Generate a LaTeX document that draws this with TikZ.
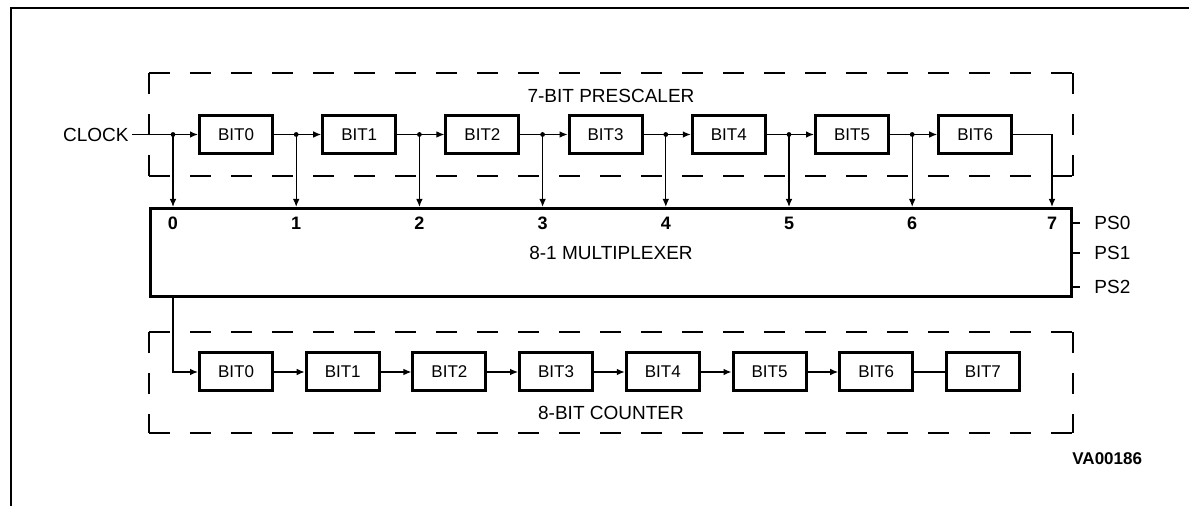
\documentclass[tikz,border=0pt]{standalone}
\usepackage{fontspec}
\setmainfont{Liberation Sans}
\usetikzlibrary{arrows.meta}
\begin{document}
\begin{tikzpicture}[x=0.5pt,y=-0.5pt,
  bitbox/.style={draw,line width=1.5pt,minimum width=36.5pt,minimum height=19pt,inner sep=0pt,font=\fontsize{8.5}{10}\selectfont},
  wire/.style={line width=0.65pt},
  arr/.style={wire,-{Latex[length=4pt,width=3.3pt]}},
  dashside/.style={line width=0.65pt,dash pattern=on 10.5pt off 10pt},
  dot/.style={circle,fill,inner sep=0pt,minimum size=2.4pt},
  lbl/.style={font=\fontsize{9.5}{11}\selectfont},
  num/.style={font=\bfseries\fontsize{9}{11}\selectfont,inner sep=0pt}]
\useasboundingbox (0,0) rectangle (1189,506);
% frame
\draw[line width=1pt] (11,506) -- (11,8) -- (1189,8);
% dashed group boxes
\draw[dashside] (149,73) -- (1073,73);
\draw[dashside] (149,176) -- (1073,176);
\draw[dashside] (149,73) -- (149,176);
\draw[dashside] (1073,73) -- (1073,176);
\draw[dashside] (149,332) -- (1073,332);
\draw[dashside] (149,433) -- (1073,433);
\draw[dashside] (149,332) -- (149,433);
\draw[dashside] (1073,332) -- (1073,433);
\node[lbl] (tp) at (611,96) {7-BIT PRESCALER};
\node[lbl] (tc) at (611,413) {8-BIT COUNTER};
% multiplexer
\node[draw,line width=1.5pt,minimum width=460.5pt,minimum height=44pt,inner sep=0pt,lbl] (mux) at (611,252.5) {8-1 MULTIPLEXER};
% prescaler
\foreach \i in {0,...,6} {
  \node[bitbox] (p\i) at ({236+123.2*\i},134.5) {BIT\i};
  \coordinate (j\i) at ({173+123.2*\i},134.5);
}
\coordinate (j7) at (1052,134.5);
\node[lbl,anchor=east,inner sep=1.5pt] (clk) at (132,134.5) {CLOCK};
\draw[arr] (clk.east) -- (p0.west);
\foreach \i/\j in {0/1,1/2,2/3,3/4,4/5,5/6} {
  \draw[arr] (p\i.east) -- (p\j.west);
}
\draw[arr] (p6.east) -| (j7 |- mux.north);
\coordinate (ly) at (0,223);
\foreach \i in {0,...,6} {
  \draw[arr] (j\i) -- (j\i |- mux.north);
  \node[dot] (d\i) at (j\i) {};
}
\foreach \i in {0,...,7} {
  \node[num] (n\i) at (j\i |- ly) {\i};
}
% select inputs
\node[lbl,anchor=west,inner xsep=7pt] (ps0) at (1080,223) {PS0};
\node[lbl,anchor=west,inner xsep=7pt] (ps1) at (1080,253) {PS1};
\node[lbl,anchor=west,inner xsep=7pt] (ps2) at (1080,287) {PS2};
\draw[wire] (mux.east |- ps0.west) -- (ps0.west);
\draw[wire] (mux.east |- ps1.west) -- (ps1.west);
\draw[wire] (mux.east |- ps2.west) -- (ps2.west);
% counter
\foreach \i in {0,...,7} {
  \node[bitbox] (c\i) at ({236+106.7*\i},372) {BIT\i};
}
\draw[arr] (j0 |- mux.south) |- (c0.west);
\foreach \i/\j in {0/1,1/2,2/3,3/4,4/5,5/6} {
  \draw[arr] (c\i.east) -- (c\j.west);
}
\draw[wire] (c6.east) -- (c7.west);
\node[font=\bfseries\fontsize{8.5}{10}\selectfont,anchor=west,inner sep=0pt] (va) at (1072,459) {VA00186};
\end{tikzpicture}
\end{document}
